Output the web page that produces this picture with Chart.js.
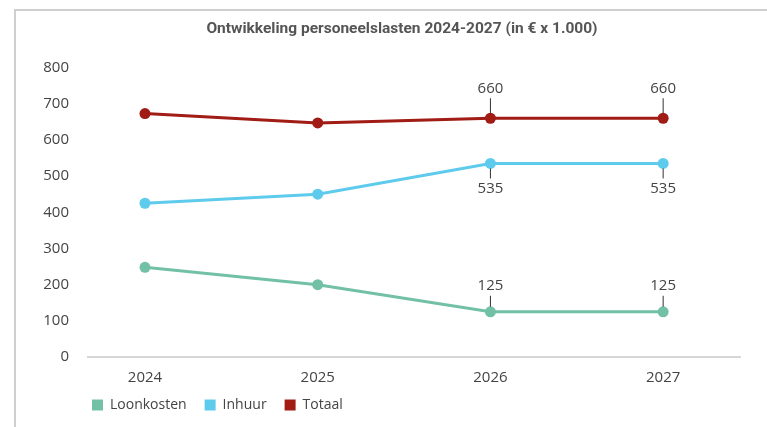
<!DOCTYPE html>
<html lang="nl">
<head>
  <meta charset="UTF-8">
  <title>Ontwikkeling personeelslasten</title>
  <script src="https://cdn.jsdelivr.net/npm/chart.js"></script>
  <style>
    body {
      margin: 0;
      background: #ffffff;
    }
    #frame {
      position: absolute;
      left: 14px;
      top: 9px;
      width: 753px;
      height: 418px;
      border-top: 2px solid #cfcfcf;
      border-left: 2px solid #cfcfcf;
    }
    #chart {
      position: absolute;
      left: 0;
      top: 0;
    }
  </style>
</head>
<body>

  <div id="frame"></div>
  <canvas id="chart" width="767" height="427"></canvas>

  <script>
    const years = [2024, 2025, 2026, 2027];
    const loonkosten = [248, 200, 125, 125];
    const inhuur = [425, 450, 535, 535];
    const totaal = [673, 647, 660, 660];
    // only the last two years carry a value label
    const labelledYears = [2026, 2027];

    const textColor = '#444444';
    const font = 'Open Sans';

    // value labels with a small leader line, above or below the marker
    const valueLabels = {
      id: 'valueLabels',
      afterDatasetsDraw(chart) {
        const ctx = chart.ctx;
        ctx.save();
        ctx.font = '15px "' + font + '"';
        ctx.fillStyle = textColor;
        ctx.strokeStyle = '#333333';
        ctx.lineWidth = 1;
        ctx.textAlign = 'center';
        ctx.textBaseline = 'middle';
        chart.data.datasets.forEach((ds, i) => {
          const meta = chart.getDatasetMeta(i);
          const off = ds.labelOffset;
          meta.data.forEach((pt, j) => {
            if (!labelledYears.includes(years[j])) return;
            const dir = off < 0 ? -1 : 1;
            ctx.beginPath();
            ctx.moveTo(pt.x, pt.y + dir * 5);
            ctx.lineTo(pt.x, pt.y + off - dir * 10);
            ctx.stroke();
            ctx.fillText(String(ds.data[j].y), pt.x, pt.y + off);
          });
        });
        ctx.restore();
      }
    };

    // nudge legend and title into the spots they have in the original
    const nudge = {
      id: 'nudge',
      afterLayout(chart) {
        const lg = chart.legend;
        lg.left += 32; lg.right += 32;
        lg.top -= 19; lg.bottom -= 19;
        const tb = chart.titleBlock;
        tb.left += 11; tb.right += 11;
      }
    };

    const toPoints = arr => arr.map((v, i) => ({ x: years[i], y: v }));

    new Chart(document.getElementById('chart').getContext('2d'), {
      type: 'line',
      data: {
        datasets: [
          {
            label: 'Loonkosten',
            data: toPoints(loonkosten),
            borderColor: '#72c0a6',
            backgroundColor: '#72c0a6',
            labelOffset: -26
          },
          {
            label: 'Inhuur',
            data: toPoints(inhuur),
            borderColor: '#5ecbec',
            backgroundColor: '#5ecbec',
            labelOffset: 25
          },
          {
            label: 'Totaal',
            data: toPoints(totaal),
            borderColor: '#a01c14',
            backgroundColor: '#a01c14',
            labelOffset: -30
          }
        ]
      },
      options: {
        responsive: false,
        animation: false,
        elements: {
          line: { borderWidth: 3, tension: 0 },
          point: { radius: 5.5, borderWidth: 0, hoverRadius: 5.5 }
        },
        layout: {
          padding: { left: 42, right: 27, bottom: -14 }
        },
        plugins: {
          title: {
            display: true,
            text: 'Ontwikkeling personeelslasten 2024-2027 (in € x 1.000)',
            color: '#555555',
            font: { family: 'Roboto', size: 15.5, weight: 'bold' },
            padding: { top: 20, bottom: 29 }
          },
          legend: {
            position: 'bottom',
            align: 'start',
            labels: {
              color: textColor,
              font: { family: font, size: 14 },
              boxWidth: 11,
              boxHeight: 11,
              padding: 18,
              generateLabels: chart =>
                Chart.defaults.plugins.legend.labels.generateLabels(chart)
                  .map(l => ({ ...l, lineWidth: 0 }))
            }
          },
          tooltip: { enabled: false }
        },
        scales: {
          x: {
            type: 'linear',
            min: 2023.67,
            max: 2027.445,
            afterBuildTicks: axis => {
              axis.ticks = years.map(v => ({ value: v }));
            },
            afterFit: axis => {
              axis.paddingLeft = 0;
              axis.paddingRight = 0;
            },
            ticks: {
              color: textColor,
              font: { family: font, size: 15 },
              padding: 12,
              callback: v => String(v)
            },
            grid: { display: false, drawTicks: false },
            border: { display: true, color: '#d6d6d6', width: 2 }
          },
          y: {
            min: 0,
            max: 800,
            afterFit: axis => {
              axis.width = 46;
            },
            ticks: {
              stepSize: 100,
              color: textColor,
              font: { family: font, size: 15 },
              padding: 19
            },
            grid: { display: false, drawTicks: false },
            border: { display: false }
          }
        }
      },
      plugins: [valueLabels, nudge]
    });
  </script>

</body>
</html>
